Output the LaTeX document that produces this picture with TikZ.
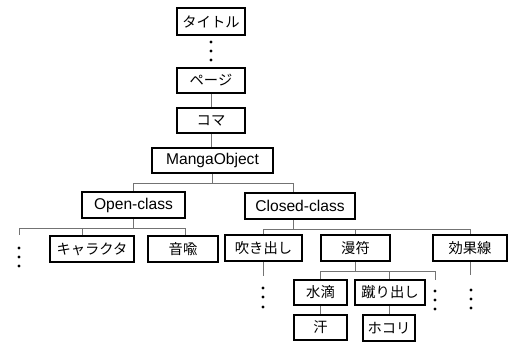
\documentclass[tikz,border=0pt]{standalone}
\usepackage{fontspec}
\setmainfont{Liberation Sans}
\newfontfamily\jpfont{Noto Sans CJK JP}
\usepackage{tikz}
\usetikzlibrary{calc}

\begin{document}
\begin{tikzpicture}[x=1pt,y=-1pt,
 box/.style={draw,line width=1.8pt,minimum height=25,inner sep=0pt,font=\fontsize{15.6}{16}\selectfont},
 jbox/.style={box,font=\jpfont\fontsize{14.3}{15}\selectfont},
 link/.style={black!55,line width=0.8pt}]
\useasboundingbox (0,0) rectangle (509,345);

\node[jbox,minimum width=68,minimum height=27] (title) at (211,21.5) {タイトル};
\node[jbox,minimum width=68] (page) at (211,80.5) {ページ};
\node[jbox,minimum width=68] (koma) at (211,120.5) {コマ};
\node[box,minimum width=121] (manga) at (212.5,160.5) {MangaObject};
\node[box,minimum width=103,minimum height=26] (open) at (133.5,205) {Open-class};
\node[box,minimum width=110,minimum height=26] (closed) at (300,206) {Closed-class};
\node[jbox,minimum width=84,minimum height=26] (chara) at (92,249) {キャラクタ};
\node[jbox,minimum width=70,minimum height=26] (onyu) at (183,249) {音喩};
\node[jbox,minimum width=77,minimum height=26] (fuki) at (263.5,248) {吹き出し};
\node[jbox,minimum width=69,minimum height=26] (manpu) at (355.5,248) {漫符};
\node[jbox,minimum width=74,minimum height=26] (kouka) at (470,248) {効果線};
\node[jbox,minimum width=53] (suiteki) at (320.5,292.5) {水滴};
\node[jbox,minimum width=70] (keri) at (390,292.5) {蹴り出し};
\node[jbox,minimum width=53] (ase) at (320.5,327.5) {汗};
\node[jbox,minimum width=52,minimum height=26] (hokori) at (389,328) {ホコリ};

\coordinate (odot) at (19,235);
\coordinate (pdot) at (435,280);

\draw[link] (page) -- (koma);
\draw[link] (koma) -- (koma |- manga.north);
\draw[link] (manga.south) -- ++(0,9.5) coordinate (m1);
\draw[link] (open.north) |- (m1) -| ([xshift=-7]closed.north);
% Open-class
\draw[link] (open.south) -- ++(0,9) coordinate (o1);
\draw[link] (odot) |- (o1) -| ([xshift=2]onyu.north);
\draw[link] ([xshift=-10]chara.north) -- ([xshift=-10]chara.north |- o1);
% Closed-class
\draw[link] ([xshift=-7]closed.south) -- ++(0,9) coordinate (c1);
\draw[link] (fuki.north) |- (c1) -| (kouka.north);
\draw[link] (manpu.north) -- (manpu.north |- c1);
\draw[link] (fuki.south) -- ++(0,14);
\draw[link] (kouka.south) -- ++(0,13);
% manpu
\draw[link] (manpu.south) -- ++(0,9.5) coordinate (p1);
\draw[link] (suiteki.north) |- (p1) -| (pdot);
\draw[link] ([xshift=-1]keri.north) -- ([xshift=-1]keri.north |- p1);
\draw[link] (suiteki) -- (ase);
\draw[link] ([xshift=-1]keri.south) -- ([xshift=-1]keri.south |- hokori.north);

\foreach \x/\y in {211/42,211/51,211/60,19/248,19/257,19/266,263/288,263/297,263/307,471/290,471/299,471/308,435/291,435/300,435/309}{
 \fill (\x,\y) circle (1.7);
 }
\end{tikzpicture}
\end{document}
